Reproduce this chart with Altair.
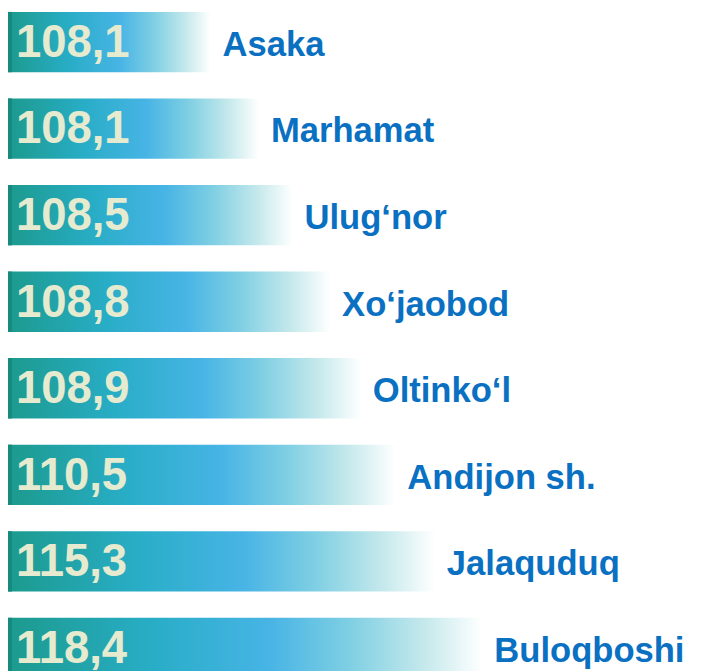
import altair as alt
import pandas as pd

districts = ["Asaka", "Marhamat", "Ulug‘nor", "Xo‘jaobod", "Oltinko‘l",
             "Andijon sh.", "Jalaquduq", "Buloqboshi"]
values = [108.1, 108.1, 108.5, 108.8, 108.9, 110.5, 115.3, 118.4]
# displayed bar length (the infographic is not to scale)
bar_len = [205, 254, 288, 326, 357, 392, 432, 480]

df = pd.DataFrame({"district": districts, "value": values, "bar": bar_len})

grad = alt.Gradient(
    gradient="linear",
    x1=0, x2=1, y1=0, y2=0,
    stops=[
        alt.GradientStop(color="#1c9a8d", offset=0),
        alt.GradientStop(color="#28adc6", offset=0.3),
        alt.GradientStop(color="#47b4e5", offset=0.55),
        alt.GradientStop(color="#7fcfe3", offset=0.72),
        alt.GradientStop(color="#c6e9ec", offset=0.88),
        alt.GradientStop(color="#ffffff", offset=1),
    ],
)

y = alt.Y("district:N", sort=None, axis=None,
          scale=alt.Scale(paddingInner=0.303, paddingOuter=0))
x_scale = alt.Scale(domain=[0, 693])

base = alt.Chart(df).encode(y=y)

bars = base.mark_bar(color=grad).encode(
    x=alt.X("bar:Q", scale=x_scale, axis=None),
)

edge = base.mark_bar(color="#178a7e").encode(
    x=alt.value(0), x2=alt.value(4),
)

vals = base.transform_calculate(
    txt="replace(format(datum.value, '.1f'), '.', ',')"
).mark_text(
    align="left", baseline="middle", dx=8, dy=1,
    font="Liberation Sans", fontWeight="bold", fontSize=46,
    color="#e6ebcf",
).encode(x=alt.value(0), text="txt:N")

labels = base.mark_text(
    align="left", baseline="middle", dx=12, dy=3,
    font="Liberation Sans", fontWeight="bold", fontSize=35,
    color="#0a70c2",
).encode(x=alt.X("bar:Q", scale=x_scale, axis=None), text="district:N")

chart = alt.layer(bars, edge, vals, labels).properties(
    width=693, height=674,
    padding=0, autosize="none",
).configure_view(stroke=None)

chart.save("out.html", embed_options={"renderer": "svg", "actions": False})
